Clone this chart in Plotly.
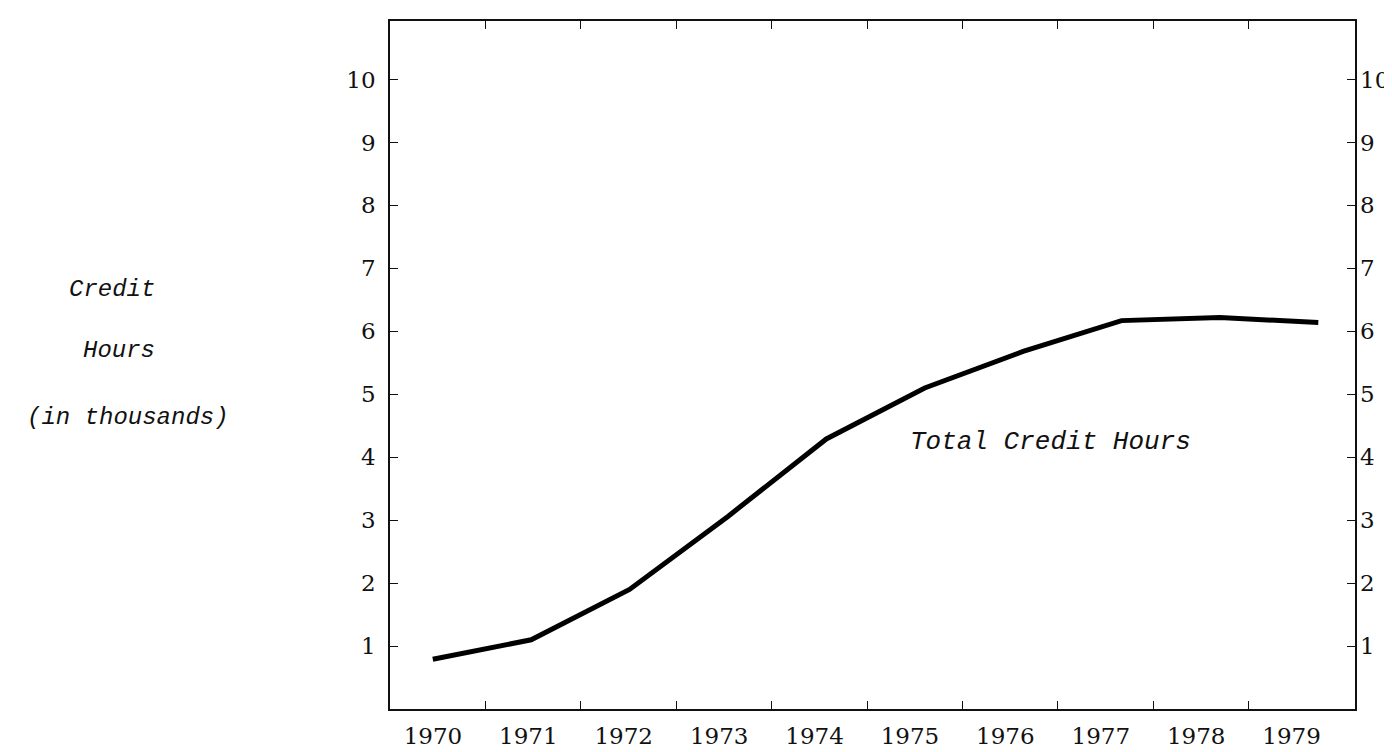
import plotly.graph_objects as go

# ---- data ----
years = [1970, 1971, 1972, 1973, 1974, 1975, 1976, 1977, 1978, 1979]
credit_hours_thousands = [0.79, 1.10, 1.90, 3.06, 4.29, 5.10, 5.68, 6.17, 6.22, 6.14]
year_labels = ["1970", "1971", "1972", "1973", "1974", "1975", "1976", "1977", "1978", "1979"]
y_ticks = [1, 2, 3, 4, 5, 6, 7, 8, 9, 10]
series_label = "Total Credit Hours"
y_title_lines = ["Credit", "Hours", "(in thousands)"]

# ---- geometry helpers (axis ranges) ----
W, H = 1392, 752
L, R, T, B = 382, 40, 11, 38
plot_w = W - L - R
px_per_year = 98.9
x0_px = 425 - L                      # pixel offset of first data year inside plot
x_range = [years[0] - x0_px / px_per_year, years[0] + (plot_w - x0_px) / px_per_year]
y_top = 10.93
interval_px = 95.9
iv_range = [0, plot_w / interval_px]

mono = "Liberation Mono, Courier New, monospace"
serif = "DejaVu Serif, serif"

fig = go.Figure()
fig.add_trace(go.Scatter(
    x=years, y=credit_hours_thousands, mode="lines",
    line=dict(color="black", width=5), showlegend=False, xaxis="x", yaxis="y",
    hoverinfo="skip",
))

fig.update_layout(
    width=W, height=H,
    margin=dict(l=L, r=R, t=T, b=B),
    paper_bgcolor="white", plot_bgcolor="white",
    showlegend=False,
    xaxis=dict(
        range=x_range, showgrid=False, zeroline=False, showticklabels=False,
        ticks="", showline=True, mirror=True, linecolor="#111", linewidth=1.5,
    ),
    # tick marks at interval boundaries
    xaxis2=dict(
        overlaying="x", anchor="y", side="bottom", range=iv_range,
        tickvals=list(range(1, len(years))), ticktext=[""] * (len(years) - 1),
        ticks="inside", ticklen=8, tickwidth=1.2, tickcolor="#111",
        mirror="ticks", showline=False, showgrid=False, zeroline=False,
    ),
    # year labels centred in intervals
    xaxis3=dict(
        overlaying="x", anchor="y", side="bottom", range=iv_range,
        tickvals=[i + 0.45 for i in range(len(years))], ticktext=year_labels,
        ticks="", showline=False, showgrid=False, zeroline=False,
        tickfont=dict(family=serif, size=23, color="#111"),
        ticklabelstandoff=11,
    ),
    yaxis=dict(
        range=[0, y_top], tickvals=y_ticks, ticktext=[str(v) for v in y_ticks],
        ticks="inside", ticklen=8, tickwidth=1.2, tickcolor="#111",
        showline=True, mirror=True, linecolor="#111", linewidth=1.5,
        showgrid=False, zeroline=False,
        tickfont=dict(family=serif, size=23, color="#111"),
        ticklabelstandoff=8,
    ),
    yaxis2=dict(
        overlaying="y", anchor="x", side="right",
        range=[0, y_top], tickvals=y_ticks, ticktext=[str(v) for v in y_ticks],
        ticks="inside", ticklen=8, tickwidth=1.2, tickcolor="#111",
        showline=False, showgrid=False, zeroline=False,
        tickfont=dict(family=serif, size=23, color="#111"),
        ticklabelstandoff=4,
    ),
)

# invisible traces to activate the auxiliary axes
fig.add_trace(go.Scatter(x=[None], y=[None], xaxis="x2", yaxis="y", showlegend=False))
fig.add_trace(go.Scatter(x=[None], y=[None], xaxis="x3", yaxis="y", showlegend=False))
fig.add_trace(go.Scatter(x=[None], y=[None], xaxis="x", yaxis="y2", showlegend=False))

# series label
fig.add_annotation(
    x=1976.28, y=4.24, xref="x", yref="y", text=series_label, showarrow=False,
    font=dict(family=mono, size=26, color="#111", style="italic"),
)

# y-axis title, typed on three lines (right edges in pixels, centre heights in data units)
for line, yv, xr in zip(y_title_lines, [6.67, 5.69, 4.63], [148, 148, 222]):
    fig.add_annotation(
        x=(xr - L) / plot_w, y=yv, xref="paper", yref="y", xanchor="right",
        text=line, showarrow=False,
        font=dict(family=mono, size=24, color="#111", style="italic"),
    )

fig.write_html("out.html")
